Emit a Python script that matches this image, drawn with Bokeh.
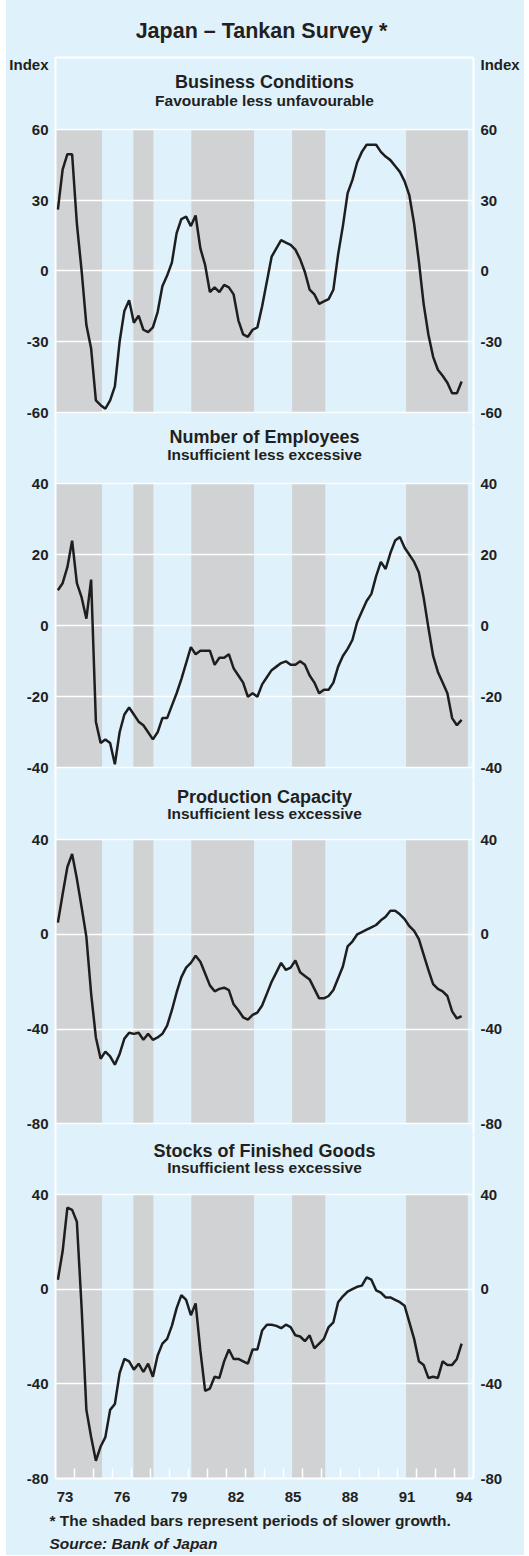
from bokeh.plotting import figure
from bokeh.models import FixedTicker, LinearAxis, Range1d, Title
from bokeh.layouts import column
from bokeh.embed import file_html
from bokeh.resources import INLINE
from bokeh.core.properties import value

# ---------------- data ----------------
YEARS = list(range(1973, 1995))
SURVEY_MONTHS = [2, 5, 8, 11]
N_OBS = 86
dates = [y + (m - 0.5) / 12 for y in YEARS for m in SURVEY_MONTHS][:N_OBS]

business = [26, 43, 49.5, 49.5, 20, 0, -23, -33, -55, -57,
            -58.5, -55, -49, -30, -17, -12.5, -22, -19, -25, -26,
            -24, -17.5, -6.5, -2, 3.5, 16, 22, 23, 19, 23.5,
            9.5, 2.5, -9, -7, -9, -6, -7, -10, -21, -27,
            -28, -25, -24, -15, -4.5, 6, 9.5, 13, 12, 11,
            9, 5, -0.5, -8, -10, -14, -13, -12, -8, 7,
            19, 33, 38.5, 46, 50.5, 53.5, 53.5, 53.5, 50.5, 48.5,
            47, 44.5, 42, 38, 32, 20, 4, -14, -27, -36.5,
            -42, -44.5, -47.5, -52, -52, -47]

employees = [10, 12, 16.5, 24, 12, 8, 2, 13,
             -27, -33, -32, -33, -39, -30, -25, -23,
             -25, -27, -28, -30, -32, -30, -26, -26,
             -22.5, -19, -15, -10.5, -6, -8, -7, -7,
             -7, -11, -9, -9, -8, -12, -14, -16,
             -20, -19, -20, -16.5, -14.5, -12.5, -11.5, -10.5,
             -10, -11, -11, -10, -11, -14, -16, -19,
             -18, -18, -16, -11.5, -8.5, -6.5, -4, 1,
             4, 7, 9, 14, 18, 16, 20.5, 24,
             25, 22, 20, 18, 15, 8, -0.5, -8.5,
             -13, -16, -19, -26, -28, -26.5]

capacity = [5, 17, 28.5, 34, 23.5, 11.5, -1, -25,
            -43.5, -52.5, -49.5, -51.5, -55, -50.5, -44, -41.5,
            -42, -41.5, -44.5, -42, -44.5, -43.5, -42, -38.5,
            -32, -24.5, -18, -14, -12, -9, -11.5, -16.5,
            -21.5, -24, -23, -22.5, -23.5, -29.5, -32, -35,
            -36, -34, -33, -30, -25, -20, -16, -12,
            -15, -14, -11, -16, -17.5, -19, -23, -27,
            -27, -26, -23.5, -18.5, -13.5, -5, -3, 0,
            1, 2, 3, 4, 6, 7.5, 10, 10,
            8.5, 6.5, 3.5, 1.5, -2, -8.5, -15, -21,
            -23, -24, -26, -32.5, -35.5, -34.5]

stocks = [4, 16, 34.5, 33.5, 28.5, -8, -51, -62.5,
          -72.5, -66.5, -62.5, -51, -48.5, -35.5, -29.5, -30.5,
          -34, -31.5, -35, -31.5, -37, -28, -23, -21,
          -15.5, -8, -2.5, -4.5, -11, -6, -26, -43,
          -42, -37, -37.5, -30.5, -25.5, -29.5, -29.5, -30.5,
          -31.5, -25.5, -25.5, -17.5, -15, -15, -15.5, -16.5,
          -15, -16, -19.5, -20, -22, -19.5, -25, -23,
          -21, -16, -14, -5.5, -3, -1, 0, 1,
          1.5, 5, 4, -0.5, -1.5, -3.5, -3.5, -4.5,
          -5.5, -7, -14, -21, -30.5, -32, -37.5, -37,
          -37.5, -30.5, -32, -32, -29.5, -23]

slow_start = [1973.0, 1977.1, 1980.15, 1985.45, 1991.45]
slow_end = [1975.45, 1978.15, 1983.45, 1987.2, 1994.7]

x_label_years = [1973, 1976, 1979, 1982, 1985, 1988, 1991, 1994]
x_labels = ["73", "76", "79", "82", "85", "88", "91", "94"]

panels = [
    dict(title="Business Conditions", subtitle="Favourable less unfavourable",
         values=business, ticks=[-60, -30, 0, 30, 60]),
    dict(title="Number of Employees", subtitle="Insufficient less excessive",
         values=employees, ticks=[-40, -20, 0, 20, 40]),
    dict(title="Production Capacity", subtitle="Insufficient less excessive",
         values=capacity, ticks=[-80, -40, 0, 40]),
    dict(title="Stocks of Finished Goods", subtitle="Insufficient less excessive",
         values=stocks, ticks=[-80, -40, 0, 40]),
]

# ---------------- layout / style ----------------
FONT = "Liberation Sans"
TEXT = "#231f20"
BLUE = "#dff1fb"
GRAY = "#d1d2d4"
LINE = "#1e1e1e"

PAGE_TOP, PAGE_LEFT = 0, 6                    # offset of the blue panel
FRAME_W = 418
BORDER_L, BORDER_R = 45, 51
FRAME_EDGES = [57, 424, 779, 1135, 1478]      # page px of frame boundaries
HI_PX = [129, 483.3, 839.3, 1194]             # page px of top gridline
LO_PX = [411.7, 767.3, 1123.3, 1478]          # page px of bottom gridline
TITLE_PX = [81.7, 436.7, 796.7, 1150.7]
SUB_PX = [100, 454.3, 813.3, 1167.3]
INDEX_PX = 63.5

x_range = Range1d(1973, 1995)


def style_y_axis(ax, ticks, overrides):
    ax.ticker = FixedTicker(ticks=ticks)
    ax.major_label_overrides = overrides
    ax.axis_line_color = "white"
    ax.axis_line_width = 2
    ax.major_tick_in = 0
    ax.major_tick_out = 0
    ax.minor_tick_in = 0
    ax.minor_tick_out = 0
    ax.major_label_standoff = 7
    ax.major_label_text_font = FONT
    ax.major_label_text_font_style = "bold"
    ax.major_label_text_font_size = "15px"
    ax.major_label_text_color = TEXT


figs = []
for k, pan in enumerate(panels):
    top, bottom = FRAME_EDGES[k], FRAME_EDGES[k + 1]
    lo, hi = pan["ticks"][0], pan["ticks"][-1]
    scale = (LO_PX[k] - HI_PX[k]) / (hi - lo)
    y_end = hi + (HI_PX[k] - top) / scale
    y_start = lo - (bottom - LO_PX[k]) / scale
    first = k == 0
    last = k == len(panels) - 1

    p = figure(frame_width=FRAME_W, frame_height=bottom - top,
               x_range=x_range, y_range=Range1d(y_start, y_end),
               output_backend="svg", toolbar_location=None,
               x_axis_location="below" if last else None,
               y_axis_location="left",
               min_border_left=BORDER_L, min_border_right=BORDER_R,
               min_border_top=(FRAME_EDGES[0] - PAGE_TOP) if first else 0,
               min_border_bottom=77 if last else 0,
               background_fill_color=BLUE, border_fill_color=BLUE,
               outline_line_color=None)

    p.xgrid.visible = False
    p.ygrid.ticker = FixedTicker(ticks=pan["ticks"])
    p.ygrid.grid_line_color = "white"
    p.ygrid.grid_line_width = 1.5

    shade = p.quad(left=slow_start, right=slow_end, bottom=lo, top=hi,
                   fill_color=GRAY, line_color=None)
    shade.level = "image"

    p.line(dates, pan["values"], line_color=LINE, line_width=2.5)

    ty = hi + (HI_PX[k] - TITLE_PX[k]) / scale
    sy = hi + (HI_PX[k] - SUB_PX[k]) / scale
    mid = (x_range.start + x_range.end) / 2
    p.text(x=[mid], y=[ty], text=[pan["title"]], text_align="center",
           text_baseline="middle", text_font=value(FONT), text_font_style="bold",
           text_font_size="18px", text_color=TEXT)
    p.text(x=[mid], y=[sy], text=[pan["subtitle"]], text_align="center",
           text_baseline="middle", text_font=value(FONT), text_font_style="bold",
           text_font_size="15.5px", text_color=TEXT)

    ticks = list(pan["ticks"])
    overrides = {t: str(t) for t in pan["ticks"]}
    if first:
        index_y = hi + (HI_PX[k] - INDEX_PX) / scale
        ticks.append(index_y)
        overrides[index_y] = "Index"
    style_y_axis(p.yaxis[0], ticks, overrides)
    right = LinearAxis()
    style_y_axis(right, ticks, overrides)
    p.add_layout(right, "right")

    if first:
        top_ax = LinearAxis(ticker=FixedTicker(ticks=[]), axis_line_color="white",
                            axis_line_width=2, major_tick_in=0, major_tick_out=0,
                            minor_tick_in=0, minor_tick_out=0,
                            major_label_text_font_size="0px")
        p.add_layout(top_ax, "above")
        p.title.text = "Japan \u2013 Tankan  Survey *"
        p.title.align = "center"
        p.title.offset = -4
        p.title.standoff = 30
        p.title.text_font = FONT
        p.title.text_font_style = "bold"
        p.title.text_font_size = "21.5px"
        p.title.text_color = TEXT

    if last:
        xa = p.xaxis[0]
        xa.ticker = FixedTicker(ticks=[y + 0.5 for y in x_label_years],
                                minor_ticks=YEARS[1:])
        xa.major_label_overrides = {y + 0.5: lab for y, lab in zip(x_label_years, x_labels)}
        xa.axis_line_color = "white"
        xa.axis_line_width = 2
        xa.major_tick_in = 0
        xa.major_tick_out = 0
        xa.minor_tick_in = 10
        xa.minor_tick_out = 0
        xa.minor_tick_line_color = "white"
        xa.minor_tick_line_width = 1.5
        xa.major_label_standoff = 13
        xa.major_label_text_font = FONT
        xa.major_label_text_font_style = "bold"
        xa.major_label_text_font_size = "15px"
        xa.major_label_text_color = TEXT
        for txt, style, gap in [("* The shaded bars represent periods of slower growth.", "bold", 11),
                                ("Source: Bank of Japan", "bold italic", -3)]:
            t = Title(text=txt, align="left", offset=-6, text_font=FONT,
                      text_font_style=style, text_font_size="15.5px", text_color=TEXT,
                      standoff=gap)
            p.add_layout(t, "below")

    figs.append(p)

layout = column(*figs, spacing=0, margin=(PAGE_TOP, 0, 0, PAGE_LEFT),
                styles={"background-color": BLUE})
open("out.html", "w").write(file_html(layout, INLINE))
